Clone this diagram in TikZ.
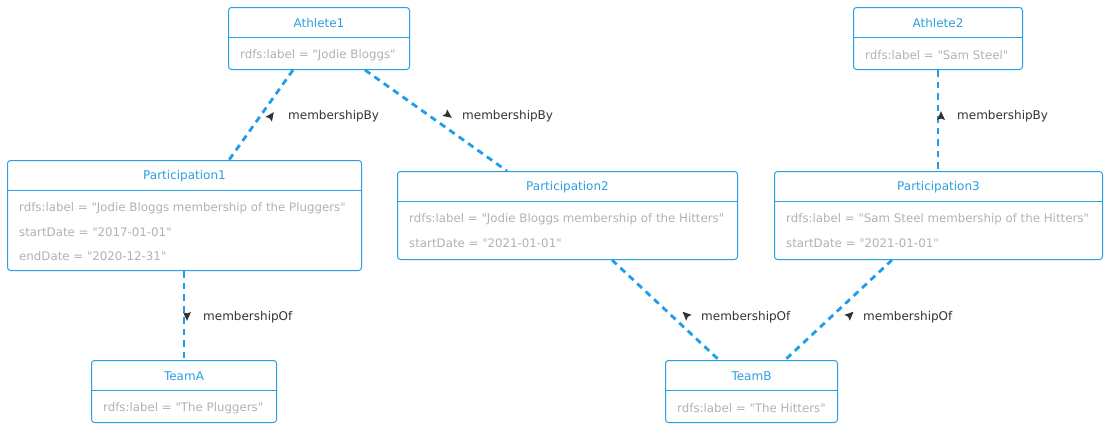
\documentclass[tikz,border=0pt]{standalone}
\usepackage{fontspec}
\setmainfont{DejaVu Sans}[Ligatures=TeXOff]
\usetikzlibrary{calc}
\definecolor{boxblue}{RGB}{40,160,226}
\definecolor{edgeblue}{RGB}{30,158,232}
\definecolor{titleblue}{RGB}{43,160,225}
\definecolor{attrgray}{RGB}{178,178,178}
\definecolor{labgray}{RGB}{51,51,51}
\newcommand{\q}{\char34\relax}
\tikzset{
  box/.style={draw=boxblue, line width=1pt, rounded corners=3pt, fill=white, inner sep=0pt},
  boxline/.style={draw=boxblue, line width=1pt},
  ttl/.style={text=titleblue, font=\fontsize{12}{14}\selectfont, inner sep=0pt},
  attr/.style={text=attrgray, font=\fontsize{11.8}{14}\selectfont, inner sep=0pt, anchor=west},
  lab/.style={text=labgray, font=\fontsize{12}{14}\selectfont, inner sep=0pt, anchor=west},
  edge/.style={draw=edgeblue, line width=2.8pt, dash pattern=on 6.5pt off 5pt},
  tri/.style={fill=labgray}
}
\newcommand{\classbox}[7]{%
  \node[box, minimum width=#4pt, minimum height=#5pt, anchor=north west] (#1) at (#2,#3) {};
  \draw[boxline] ($(#1.north west)+(0,30)$) -- ($(#1.north east)+(0,30)$);
  \node[ttl] (#1-t) at ($(#1.north)+(0,16)$) {#6};
  \foreach \a [count=\i] in {#7} {\node[attr] (#1-a\i) at ($(#1.north west)+(12,24+24*\i)$) {\a};}
}
% direction triangle: centre (x,y), unit direction (ux,uy), normal (nx,ny)
\newcommand{\dirtri}[6]{%
  \fill[tri] ($(#1,#2)+4.8*(#3,#4)$) -- ($(#1,#2)-4*(#3,#4)+4*(#5,#6)$)
    -- ($(#1,#2)-2.6*(#3,#4)$) -- ($(#1,#2)-4*(#3,#4)-4*(#5,#6)$) -- cycle;}
\begin{document}
\begin{tikzpicture}[x=1pt,y=-1pt]
\useasboundingbox (0,0) rectangle (1108,429);
\classbox{A1}{228}{7}{181}{62}{Athlete1}{rdfs:label = \q Jodie Bloggs\q}
\classbox{A2}{853}{7}{169}{62}{Athlete2}{rdfs:label = \q Sam Steel\q}
\classbox{P1}{7}{160}{354}{110}{Participation1}{rdfs:label = \q Jodie Bloggs membership of the Pluggers\q,startDate = \q 2017-01-01\q,endDate = \q 2020-12-31\q}
\classbox{P2}{397}{171}{340}{88}{Participation2}{rdfs:label = \q Jodie Bloggs membership of the Hitters\q,startDate = \q 2021-01-01\q}
\classbox{P3}{774}{171}{328}{88}{Participation3}{rdfs:label = \q Sam Steel membership of the Hitters\q,startDate = \q 2021-01-01\q}
\classbox{TA}{91}{360}{185}{62}{TeamA}{rdfs:label = \q The Pluggers\q}
\classbox{TB}{665}{360}{172}{62}{TeamB}{rdfs:label = \q The Hitters\q}
% edges
\draw[edge] ($(A1.south west)+(65,0)$) -- ($(P1.north west)+(222,0)$);
\draw[edge] ($(A1.south west)+(137,0)$) -- ($(P2.north west)+(110,0)$);
\draw[edge] (A2.south) -- (A2.south |- P3.north);
\draw[edge] (TA.north |- P1.south) -- (TA.north);
\draw[edge] ($(P2.south west)+(215,0)$) -- ($(TB.north west)+(54,0)$);
\draw[edge] ($(P3.south west)+(118,0)$) -- ($(TB.north west)+(120,0)$);
% edge labels
\dirtri{271}{116}{0.587}{-0.810}{0.810}{0.587}
\node[lab] (l1) at (288,116.5) {membershipBy};
\dirtri{448}{115}{0.812}{0.584}{-0.584}{0.812}
\node[lab] (l2) at (462,116.5) {membershipBy};
\dirtri{941}{116}{0}{-1}{1}{0}
\node[lab] (l3) at (957,116.5) {membershipBy};
\dirtri{187}{316}{0}{1}{1}{0}
\node[lab] (l4) at (203,317) {membershipOf};
\dirtri{686}{315}{-0.727}{-0.687}{0.687}{-0.727}
\node[lab] (l5) at (701,317) {membershipOf};
\dirtri{850}{315}{0.727}{-0.687}{0.687}{0.727}
\node[lab] (l6) at (863,317) {membershipOf};
\end{tikzpicture}
\end{document}
